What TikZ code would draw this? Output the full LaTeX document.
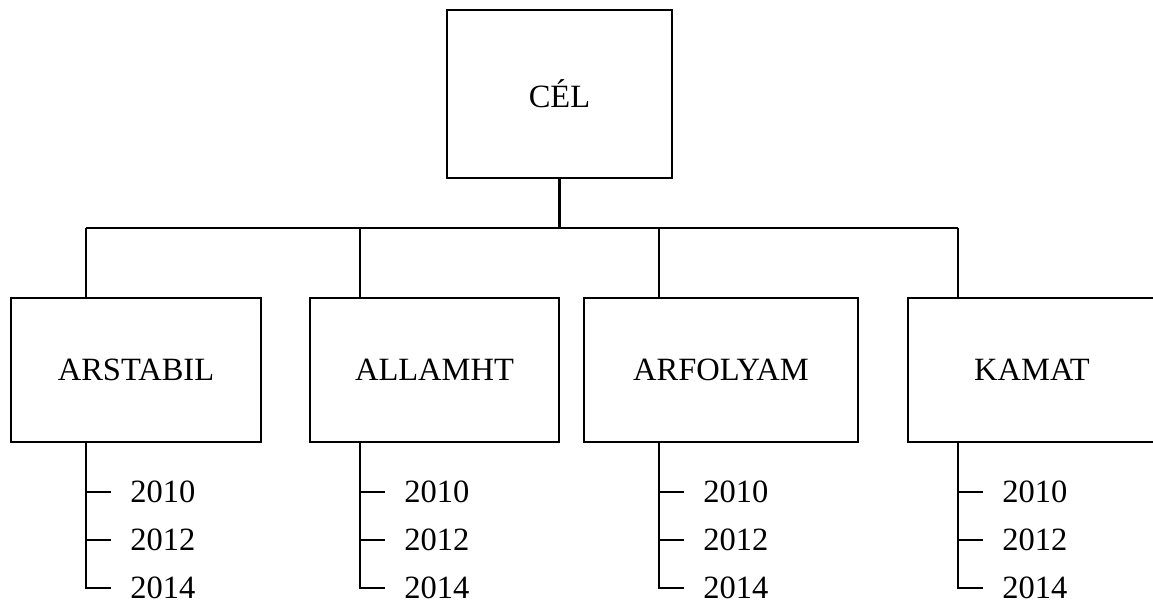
\documentclass[tikz,border=0pt]{standalone}
\usepackage{fontspec}
\setmainfont{Liberation Serif}
\usepackage{tikz}

\begin{document}
\begin{tikzpicture}[x=0.02cm, y=-0.02cm,
  box/.style={draw, line width=1.2pt, inner sep=0pt, minimum height=2.88cm, font=\fontsize{18.5}{22}\selectfont},
  link/.style={line width=1.3pt},
  year/.style={anchor=west, inner xsep=0.38cm, inner ysep=0pt, font=\fontsize{18.5}{22}\selectfont},
]
  \useasboundingbox (0,0) rectangle (1153,603);

  % Goal
  \node[box, minimum width=4.5cm, minimum height=3.36cm] (cel) at (559.5,94) {CÉL};

  % Criteria
  \node[box, minimum width=5cm] (arstabil) at (136,370) {ARSTABIL};
  \node[box, minimum width=4.98cm] (allamht) at (434.5,370) {ALLAMHT};
  \node[box, minimum width=5.48cm] (arfolyam) at (721,370) {ARFOLYAM};
  \node[box, minimum width=4.96cm] (kamat) at (1032,370) {KAMAT};

  % Branches and years
  \foreach \n/\x in {arstabil/86, allamht/360, arfolyam/659, kamat/958}{
    \coordinate (\n-top) at (\x,228);
    \draw[link] (\n-top) -- (\n-top |- \n.north);
    \foreach \yr/\y in {2010/492, 2012/540, 2014/588}
      \node[year] (\n-\yr) at (\x+25,\y) {\yr};
    \draw[link] (\n-top |- \n.south) |- (\n-2014.west);
    \draw[link] (\n-top |- \n-2010.west) -- (\n-2010.west);
    \draw[link] (\n-top |- \n-2012.west) -- (\n-2012.west);
  }

  \draw[link] (cel.south) -- (cel.south |- arstabil-top);
  \draw[link] (arstabil-top) -- (kamat-top);

\end{tikzpicture}
\end{document}
